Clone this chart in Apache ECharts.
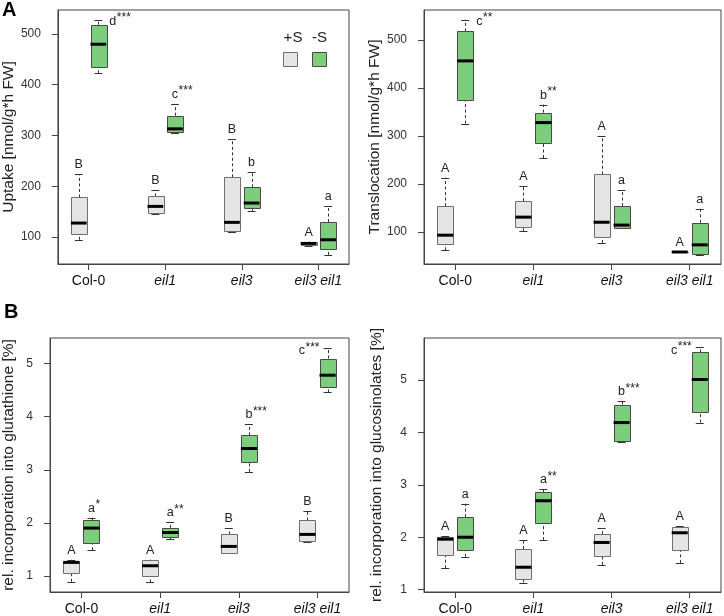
<!DOCTYPE html>
<html>
<head>
<meta charset="utf-8">
<script src="https://cdn.jsdelivr.net/npm/echarts@6/dist/echarts.min.js"></script>
<style>
  html, body { margin: 0; padding: 0; background: #fff; }
  #chart { width: 724px; height: 616px; }
</style>
</head>
<body>
<div id="chart"></div>
<script>
// ---------------- DATA ----------------
const categories = ['Col-0', 'eil1', 'eil3', 'eil3 eil1'];
const italicCategory = [false, true, true, true];

// five-number summaries: [min, q1, median, q3, max]
const uptakePlusS = [[94.7, 106, 127.6, 178, 223.5], [145.3, 147.3, 160.4, 180, 192], [110.5, 111, 129, 217.6, 293], [82, 84, 87.5, 90, 91]];
const uptakeMinusS = [[422.5, 435, 479.6, 518, 527], [305.6, 307, 313, 339, 362], [152, 155.8, 167, 197.9, 228.7], [65, 77, 94.7, 129.6, 161]];

const translocPlusS = [[61.7, 75, 93, 153.6, 212.7], [101.4, 110.4, 130.6, 164, 195], [77, 88, 120, 219.7, 299.7], [58, 58, 58, 58, 58]];
const translocMinusS = [[325.4, 372.7, 456, 517.4, 541.7], [253.7, 285.7, 327.5, 348.3, 365], [107, 108.3, 114, 153.6, 188], [52.7, 54, 72.9, 118.8, 148]];

const gshPlusS = [[0.893, 1.056, 1.257, 1.29, 1.307], [0.881, 0.994, 1.194, 1.295, 1.307], [1.43, 1.433, 1.558, 1.784, 1.897], [1.65, 1.658, 1.784, 2.047, 2.216]];
const gshMinusS = [[1.489, 1.627, 1.903, 2.053, 2.097], [1.696, 1.746, 1.82, 1.909, 2.01], [2.962, 3.138, 3.40, 3.646, 3.853], [4.455, 4.567, 4.78, 5.094, 5.295]];

const glsPlusS = [[1.408, 1.65, 1.963, 2.0, 2.02], [1.134, 1.19, 1.427, 1.772, 1.95], [1.472, 1.638, 1.90, 2.059, 2.174], [1.51, 1.746, 2.085, 2.187, 2.212]];
const glsMinusS = [[1.625, 1.759, 2.0, 2.384, 2.64], [1.944, 2.257, 2.697, 2.856, 2.914], [3.826, 3.845, 4.19, 4.534, 4.598], [4.19, 4.381, 5.013, 5.53, 5.625]];

// significance letters and stars
const uptakeLettersPlus = ['B', 'B', 'B', 'A'];
const uptakeLettersMinus = ['d', 'c', 'b', 'a'];
const uptakeStarsMinus = ['***', '***', '', ''];
const translocLettersPlus = ['A', 'A', 'A', 'A'];
const translocLettersMinus = ['c', 'b', 'a', 'a'];
const translocStarsMinus = ['**', '**', '', ''];
const gshLettersPlus = ['A', 'A', 'B', 'B'];
const gshLettersMinus = ['a', 'a', 'b', 'c'];
const gshStarsMinus = ['*', '**', '***', '***'];
const glsLettersPlus = ['A', 'A', 'A', 'A'];
const glsLettersMinus = ['a', 'a', 'b', 'c'];
const glsStarsMinus = ['', '**', '***', '***'];

// y tick labels
const uptakeTicks = [100, 200, 300, 400, 500];
const translocTicks = [100, 200, 300, 400, 500];
const gshTicks = [1, 2, 3, 4, 5];
const glsTicks = [1, 2, 3, 4, 5];

const axisTitles = ['Uptake [nmol/g*h FW]', 'Translocation [nmol/g*h FW]',
  'rel. incorporation into glutathione [%]', 'rel. incorporation into glucosinolates [%]'];
const legendLabels = ['+S', '-S'];

// ---------------- STYLE / LAYOUT ----------------
const NARROW = '"Liberation Sans Narrow", "Arial Narrow", "Liberation Sans", Arial, sans-serif';
const REG = '"Liberation Sans", Arial, sans-serif';
const FILL = { plus: '#e5e5e5', minus: '#7ccd7c' };
const STROKE = { plus: '#6e6e6e', minus: '#4a4a4a' };
const OFFSET = { plus: -0.128, minus: 0.128 };
const BOX_W = 0.205;

const panels = [
  { grid: { left: 50, top: 10, width: 299, height: 254 }, yMin: 47, yMax: 547, ticks: uptakeTicks, nameGap: 33,
    plus: uptakePlusS, minus: uptakeMinusS, lettersPlus: uptakeLettersPlus, lettersMinus: uptakeLettersMinus,
    starsMinus: uptakeStarsMinus, place: { 0: 'right' } },
  { grid: { left: 424, top: 10, width: 297, height: 254 }, yMin: 33, yMax: 562, ticks: translocTicks, nameGap: 41,
    plus: translocPlusS, minus: translocMinusS, lettersPlus: translocLettersPlus, lettersMinus: translocLettersMinus,
    starsMinus: translocStarsMinus, place: { 0: 'right' } },
  { grid: { left: 50, top: 338, width: 299, height: 255 }, yMin: 0.70, yMax: 5.48, ticks: gshTicks, nameGap: 33,
    plus: gshPlusS, minus: gshMinusS, lettersPlus: gshLettersPlus, lettersMinus: gshLettersMinus,
    starsMinus: gshStarsMinus, place: { 3: 'left' } },
  { grid: { left: 424, top: 338, width: 297, height: 254 }, yMin: 0.954, yMax: 5.805, ticks: glsTicks, nameGap: 39,
    plus: glsPlusS, minus: glsMinusS, lettersPlus: glsLettersPlus, lettersMinus: glsLettersMinus,
    starsMinus: glsStarsMinus, place: { 3: 'left' } }
];

const measureCtx = document.createElement('canvas').getContext('2d');
function textW(str, font) { measureCtx.font = font; return measureCtx.measureText(str).width; }
const px = v => Math.round(v) + 0.5;

const LETTER_FONT = '12.5px ' + NARROW;
const STAR_FONT = '12px ' + NARROW;

function txt(text, x, y, align, font) {
  return { type: 'text', style: { text: text, x: x, y: y, font: font, fill: '#222',
    align: align, verticalAlign: 'middle', textAlign: align, textVerticalAlign: 'middle' } };
}

function makeRenderer(panel, cond) {
  return function (params, api) {
    const i = params.dataIndex;
    const x = api.value(0);
    const v = [1, 2, 3, 4, 5].map(k => api.value(k));
    const cx = api.coord([x, v[2]])[0];
    const y = v.map(val => api.coord([x, val])[1]);
    const hw = api.size([BOX_W, 0])[0] / 2;
    const cw = hw / 2;
    const lx = px(cx);
    const dash = { stroke: '#333', lineWidth: 1, lineDash: [3, 2.5] };
    const solid = { stroke: '#333', lineWidth: 1 };
    const children = [
      { type: 'line', shape: { x1: lx, y1: y[3], x2: lx, y2: y[4] }, style: dash },
      { type: 'line', shape: { x1: lx, y1: y[0], x2: lx, y2: y[1] }, style: dash },
      { type: 'line', shape: { x1: cx - cw, y1: px(y[4]), x2: cx + cw, y2: px(y[4]) }, style: solid },
      { type: 'line', shape: { x1: cx - cw, y1: px(y[0]), x2: cx + cw, y2: px(y[0]) }, style: solid },
      { type: 'rect', shape: { x: px(cx - hw), y: px(y[3]), width: Math.round(2 * hw), height: Math.max(0, Math.round(y[1] - y[3])) },
        style: { fill: FILL[cond], stroke: STROKE[cond], lineWidth: 1 } },
      { type: 'line', shape: { x1: cx - hw, y1: y[2], x2: cx + hw, y2: y[2] }, style: { stroke: '#000', lineWidth: 3 } }
    ];
    const letter = cond === 'plus' ? panel.lettersPlus[i] : panel.lettersMinus[i];
    const stars = cond === 'plus' ? '' : panel.starsMinus[i];
    const place = cond === 'minus' ? (panel.place[i] || 'top') : 'top';
    const lw = textW(letter, LETTER_FONT);
    const sw = textW(stars, STAR_FONT);
    let lxC, ly;
    if (place === 'top') {
      lxC = cx; ly = y[4] - 9.5;
    } else if (place === 'right') {
      lxC = cx + 11 + lw / 2; ly = y[4] + 1.5;
    } else {
      lxC = cx - hw - sw - lw / 2 - 0.5; ly = y[4] + 3;
    }
    children.push(txt(letter, lxC, ly, 'center', LETTER_FONT));
    if (stars) children.push(txt(stars, lxC + lw / 2 + 0.5, ly - 3.5, 'left', STAR_FONT));
    return { type: 'group', children: children };
  };
}

const grids = [], xAxes = [], yAxes = [], series = [];
panels.forEach((p, idx) => {
  grids.push(Object.assign({ show: true, borderColor: '#444', borderWidth: 1 }, p.grid));
  xAxes.push({
    type: 'value', gridIndex: idx, min: 0.6, max: 4.4,
    splitLine: { show: false },
    axisLine: { show: true, lineStyle: { color: '#444' } },
    axisTick: { show: true, length: 6, customValues: [1, 2, 3, 4], lineStyle: { color: '#444' } },
    axisLabel: {
      show: true, customValues: [1, 2, 3, 4], margin: 10,
      fontFamily: NARROW, fontSize: 14, color: '#111',
      formatter: val => {
        const k = Math.round(val) - 1;
        return italicCategory[k] ? '{i|' + categories[k] + '}' : categories[k];
      },
      rich: { i: { fontStyle: 'italic', fontFamily: NARROW, fontSize: 14, color: '#111' } }
    }
  });
  yAxes.push({
    type: 'value', gridIndex: idx, min: p.yMin, max: p.yMax,
    splitLine: { show: false },
    axisLine: { show: true, lineStyle: { color: '#444' } },
    axisTick: { show: true, length: 6, customValues: p.ticks, lineStyle: { color: '#444' } },
    axisLabel: { show: true, customValues: p.ticks, margin: 17, fontFamily: NARROW, fontSize: 12, color: '#333' },
    name: axisTitles[idx], nameLocation: 'middle', nameGap: p.nameGap,
    nameTextStyle: { fontFamily: REG, fontSize: 15.5, color: '#222' }
  });
  ['plus', 'minus'].forEach(cond => {
    series.push({
      type: 'custom', xAxisIndex: idx, yAxisIndex: idx, coordinateSystem: 'cartesian2d',
      encode: { x: 0, y: [1, 2, 3, 4, 5] },
      data: p[cond].map((s, g) => [g + 1 + OFFSET[cond]].concat(s)),
      renderItem: makeRenderer(p, cond),
      silent: true, animation: false
    });
  });
});

const option = {
  backgroundColor: '#fff',
  animation: false,
  grid: grids, xAxis: xAxes, yAxis: yAxes, series: series,
  graphic: [
    { type: 'text', left: 2, top: 0, style: { text: 'A', font: 'bold 20px ' + NARROW, fill: '#000' } },
    { type: 'text', left: 4, top: 302, style: { text: 'B', font: 'bold 20px ' + NARROW, fill: '#000' } },
    { type: 'text', x: 293, y: 38, style: { text: legendLabels[0], font: '15px ' + NARROW, fill: '#222', align: 'center', verticalAlign: 'middle' } },
    { type: 'text', x: 319.5, y: 38, style: { text: legendLabels[1], font: '15px ' + NARROW, fill: '#222', align: 'center', verticalAlign: 'middle' } },
    { type: 'rect', shape: { x: 283.5, y: 52.5, width: 14, height: 14 }, style: { fill: FILL.plus, stroke: STROKE.plus, lineWidth: 1 } },
    { type: 'rect', shape: { x: 312.5, y: 52.5, width: 14, height: 14 }, style: { fill: FILL.minus, stroke: STROKE.minus, lineWidth: 1 } }
  ]
};

const chart = echarts.init(document.getElementById('chart'), null, { renderer: 'canvas' });
chart.setOption(option);
</script>
</body>
</html>
